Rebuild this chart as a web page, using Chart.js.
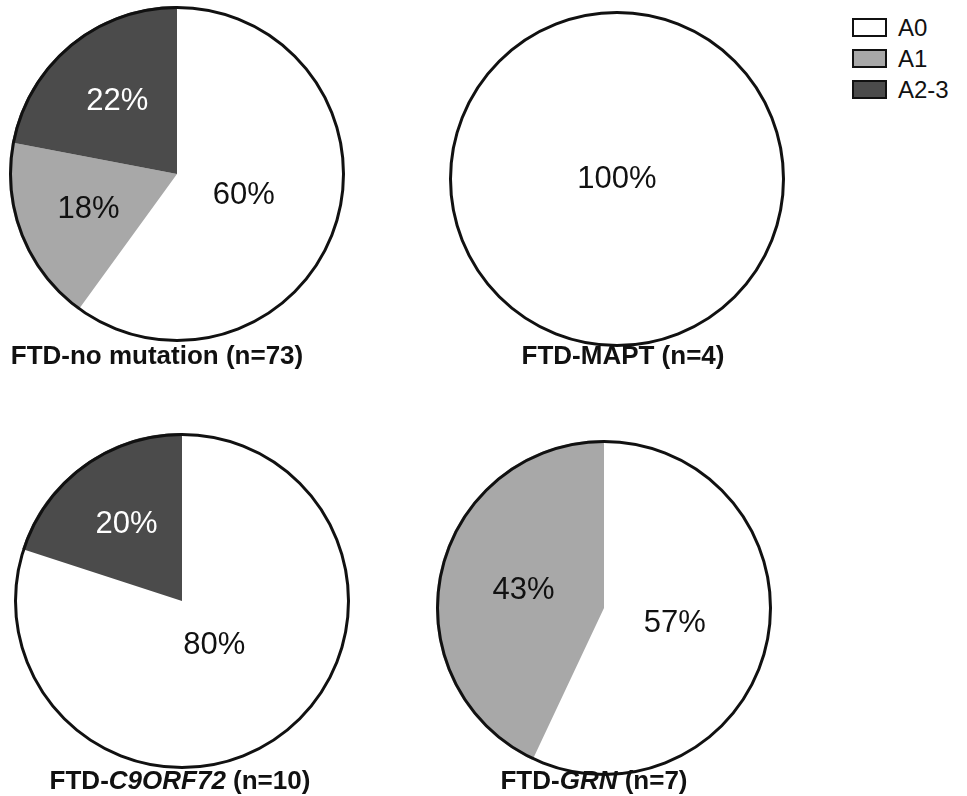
<!DOCTYPE html>
<html>
<head>
<meta charset="utf-8">
<script src="https://cdn.jsdelivr.net/npm/chart.js@4.4.1/dist/chart.umd.min.js"></script>
<style>
  html, body { margin: 0; padding: 0; background: #fff; }
  body { width: 967px; height: 796px; position: relative; overflow: hidden; font-family: "Liberation Sans", Arial, sans-serif; }
  canvas { position: absolute; }
  .title { position: absolute; width: 360px; text-align: center; font-weight: bold; font-size: 26px; color: #111; }
  #legend { position: absolute; left: 852px; top: 12px; }
  .row { display: flex; align-items: center; height: 31px; font-size: 24px; color: #111; }
  .box { width: 31px; height: 15px; border: 2px solid #111; margin-right: 11px; }
</style>
</head>
<body>
<canvas id="pie1" width="336" height="336" style="left:9px;top:6px"></canvas>
<canvas id="pie2" width="336" height="336" style="left:449px;top:11px"></canvas>
<canvas id="pie3" width="336" height="336" style="left:14px;top:433px"></canvas>
<canvas id="pie4" width="336" height="336" style="left:436px;top:440px"></canvas>

<div class="title" style="left:-23px;top:340px">FTD-no mutation (n=73)</div>
<div class="title" style="left:443px;top:340px">FTD-MAPT (n=4)</div>
<div class="title" style="left:0px;top:765px">FTD-<i>C9ORF72</i> (n=10)</div>
<div class="title" style="left:414px;top:765px">FTD-<i>GRN</i> (n=7)</div>

<div id="legend"></div>

<script>
const categories = ['A0', 'A1', 'A2-3'];
const colors = ['#ffffff', '#a8a8a8', '#4b4b4b'];

const noMutation = [60, 18, 22];
const mapt = [100, 0, 0];
const c9orf72 = [80, 0, 20];
const grn = [57, 43, 0];

// outline + percent text, since slices have no stroke between them
const pieDecor = {
    id: 'pieDecor',
    afterDatasetsDraw(chart) {
        const ctx = chart.ctx;
        const meta = chart.getDatasetMeta(0);
        const data = chart.data.datasets[0].data;
        const first = meta.data[0];
        ctx.save();
        ctx.beginPath();
        ctx.arc(first.x, first.y, first.outerRadius - 1.5, 0, Math.PI * 2);
        ctx.lineWidth = 3;
        ctx.strokeStyle = '#111';
        ctx.stroke();

        ctx.font = '31px "Liberation Sans", Arial, sans-serif';
        ctx.textAlign = 'center';
        ctx.textBaseline = 'middle';
        meta.data.forEach((arc, i) => {
            if (!data[i]) return;
            let x = arc.x, y = arc.y;
            if (data[i] < 100) {
                const half = (arc.endAngle - arc.startAngle) / 2;
                const mid = arc.startAngle + half;
                // somewhere between the sector centroid and half radius
                const centroid = 2 * Math.sin(half) / (3 * half);
                const r = arc.outerRadius * (0.25 + centroid / 2);
                x += Math.cos(mid) * r;
                y += Math.sin(mid) * r;
            }
            ctx.fillStyle = i === 2 ? '#ffffff' : '#111';
            ctx.fillText(data[i] + '%', x, y);
        });
        ctx.restore();
    }
};

function makePie(id, values) {
    new Chart(document.getElementById(id), {
        type: 'pie',
        data: {
            labels: categories,
            datasets: [{
                data: values,
                backgroundColor: colors,
                borderWidth: 0
            }]
        },
        options: {
            responsive: false,
            animation: false,
            layout: { padding: 0 },
            plugins: {
                legend: { display: false },
                tooltip: { enabled: false }
            }
        },
        plugins: [pieDecor]
    });
}

makePie('pie1', noMutation);
makePie('pie2', mapt);
makePie('pie3', c9orf72);
makePie('pie4', grn);

const legend = document.getElementById('legend');
categories.forEach((c, i) => {
    const row = document.createElement('div');
    row.className = 'row';
    row.innerHTML = '<div class="box" style="background:' + colors[i] + '"></div>' + c;
    legend.appendChild(row);
});
</script>
</body>
</html>
